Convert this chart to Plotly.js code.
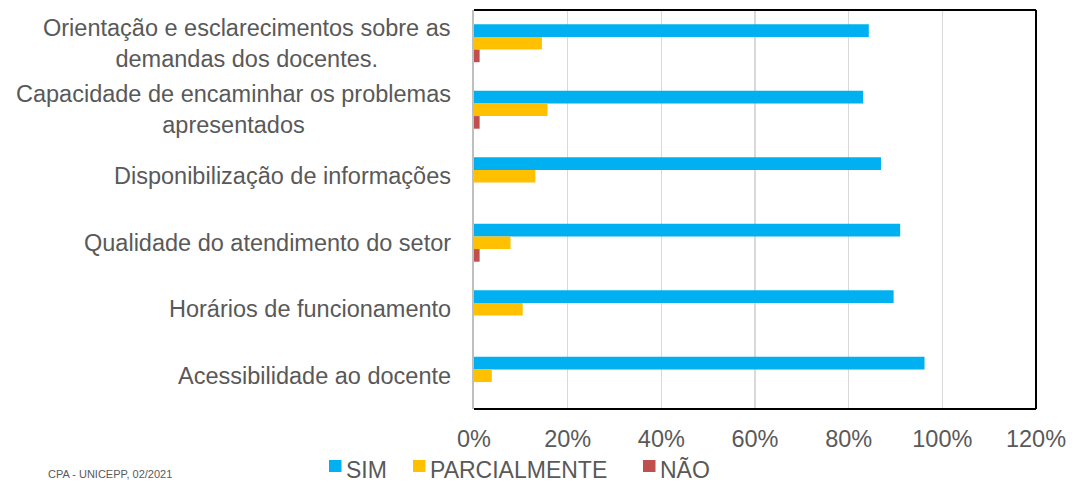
<!DOCTYPE html>
<html>
<head>
<meta charset="utf-8">
<script src="https://cdn.plot.ly/plotly-3.0.1.min.js"></script>
<style>html,body{margin:0;padding:0;background:#fff;}#chart{width:1072px;height:483px;}</style>
</head>
<body>
<div id="chart"></div>
<script>
const categories = [
  "Orientação e esclarecimentos sobre as<br>demandas dos docentes.",
  "Capacidade de encaminhar os problemas<br>apresentados",
  "Disponibilização de informações",
  "Qualidade do atendimento do setor",
  "Horários de funcionamento",
  "Acessibilidade ao docente"
];
const seriesNames = ["SIM", "PARCIALMENTE", "NÃO"];
const sim = [0.843, 0.831, 0.869, 0.910, 0.896, 0.962];
const parcialmente = [0.145, 0.157, 0.131, 0.078, 0.104, 0.038];
const nao = [0.012, 0.012, 0, 0.012, 0, 0];
const xTickVals = [0, 0.2, 0.4, 0.6, 0.8, 1.0, 1.2];
const xTickText = ["0%", "20%", "40%", "60%", "80%", "100%", "120%"];
const footer = "CPA - UNICEPP, 02/2021";

const colors = ["#00B0F0", "#FFC000", "#C0504D"];
const textColor = "#595959";
const fontFamily = "Liberation Sans, Arial, sans-serif";
const FS = 23.5;

const W = 1072, H = 483;
const M = {l: 474, r: 36, t: 10, b: 74};
const PW = W - M.l - M.r, PH = H - M.t - M.b;
const px2x = p => (p - M.l) / PW;
const py2y = p => (H - M.b - p) / PH;

const values = [sim, parcialmente, nao];
const traces = seriesNames.map((n, i) => ({
  type: "bar", orientation: "h", name: n, y: categories, x: values[i],
  marker: {color: colors[i]}, showlegend: false
}));

const annotations = categories.map(c => ({
  xref: "paper", yref: "y", x: 0, y: c, xanchor: "right", yanchor: "middle",
  xshift: -21, align: "center", showarrow: false, text: c,
  font: {family: fontFamily, size: FS, color: textColor}
}));
annotations.push({
  xref: "paper", yref: "paper", x: px2x(46), y: py2y(482), xanchor: "left", yanchor: "bottom",
  showarrow: false, text: footer, font: {family: fontFamily, size: 11, color: textColor}
});

// manual legend (Excel-like compact squares)
const legendSquareX = [329, 413, 643];
const legendY = 469.5;
const shapes = [
  {type: "line", xref: "paper", yref: "paper", x0: 0, x1: 1, y0: 1, y1: 1, line: {color: "#000", width: 2}},
  {type: "line", xref: "paper", yref: "paper", x0: 1, x1: 1, y0: 0, y1: 1, line: {color: "#000", width: 2}},
  {type: "line", xref: "paper", yref: "paper", x0: 0, x1: 1, y0: 0, y1: 0, line: {color: "#000", width: 2}}
];
seriesNames.forEach((n, i) => {
  const sx = legendSquareX[i];
  shapes.push({type: "rect", xref: "paper", yref: "paper",
    x0: px2x(sx), x1: px2x(sx + 12.5), y0: py2y(legendY + 8.5 - 6), y1: py2y(legendY + 8.5 - 18),
    fillcolor: colors[i], line: {width: 0}});
  annotations.push({xref: "paper", yref: "paper", x: px2x(sx + 15), y: py2y(legendY),
    xanchor: "left", yanchor: "middle", showarrow: false, text: n,
    font: {family: fontFamily, size: 23, color: textColor}});
});

const layout = {
  width: W, height: H,
  margin: {l: M.l, r: M.r, t: M.t, b: M.b, pad: 0},
  paper_bgcolor: "#fff", plot_bgcolor: "#fff",
  font: {family: fontFamily, size: FS, color: textColor},
  barmode: "group", bargap: 0.43, bargroupgap: 0,
  showlegend: false,
  xaxis: {
    range: [0, 1.2], tickvals: xTickVals, ticktext: xTickText,
    showgrid: true, gridcolor: "#d9d9d9", gridwidth: 1.5,
    zeroline: false, showline: false, ticks: "",
    ticklabelstandoff: 13,
    tickfont: {family: fontFamily, size: FS, color: textColor},
    fixedrange: true
  },
  yaxis: {
    type: "category", autorange: "reversed",
    showticklabels: false, ticks: "", showgrid: false, zeroline: false,
    showline: true, linecolor: "#bfbfbf", linewidth: 2,
    fixedrange: true
  },
  shapes: shapes,
  annotations: annotations
};

Plotly.newPlot("chart", traces, layout, {displayModeBar: false, staticPlot: true});
</script>
</body>
</html>
